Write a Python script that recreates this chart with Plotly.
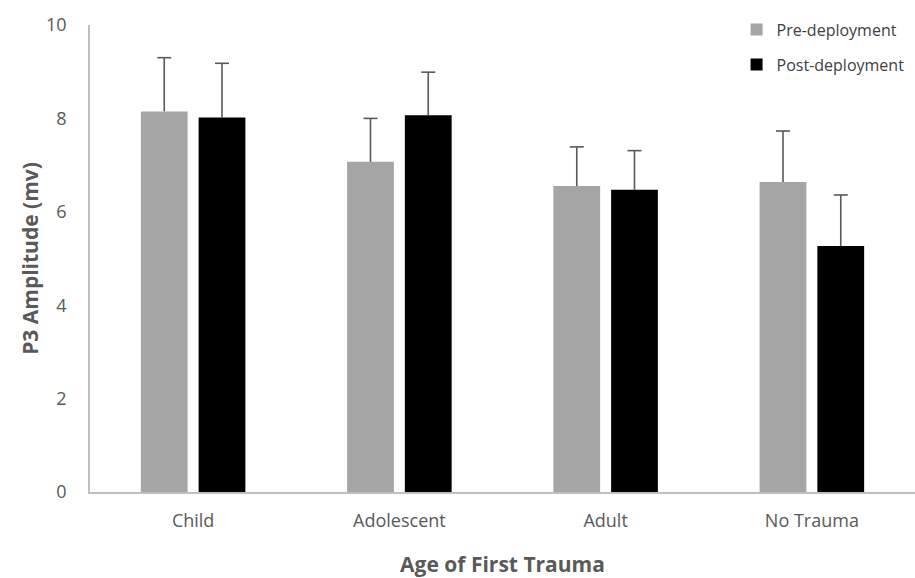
import plotly.graph_objects as go

categories = ["Child", "Adolescent", "Adult", "No Trauma"]
pre_values = [8.15, 7.07, 6.55, 6.64]
pre_errors = [1.15, 0.93, 0.84, 1.09]
post_values = [8.02, 8.07, 6.47, 5.27]
post_errors = [1.16, 0.92, 0.84, 1.09]

text_color = "#595959"
axis_color = "#bfbfbf"
err_color = "#595959"
font_family = "Open Sans, Liberation Sans, sans-serif"

bar_gap = 0.44
group_gap = 0.19
positions = list(range(len(categories)))
# centre offset of each bar inside its category slot
half_slot = (1 - bar_gap) / 4

fig = go.Figure()
series = [
    ("Pre-deployment", pre_values, pre_errors, "#a5a5a5", -half_slot),
    ("Post-deployment", post_values, post_errors, "#000000", half_slot),
]
for name, vals, errs, color, _ in series:
    fig.add_trace(go.Bar(
        name=name, x=positions, y=vals,
        marker=dict(color=color, line=dict(width=0)),
        error_y=dict(type="data", array=errs, arrayminus=[0] * len(vals),
                     symmetric=False, color=err_color, thickness=1.6, width=0),
        legendgroup=name,
    ))
# caps at the top end of each error bar
for name, vals, errs, color, offset in series:
    fig.add_trace(go.Scatter(
        x=[p + offset for p in positions],
        y=[v + e for v, e in zip(vals, errs)],
        mode="markers", showlegend=False, hoverinfo="skip",
        marker=dict(symbol="line-ew", size=10,
                    line=dict(color=err_color, width=1.6)),
    ))

fig.update_layout(
    width=915, height=578,
    margin=dict(l=90, r=0, t=25, b=86, autoexpand=False),
    paper_bgcolor="white", plot_bgcolor="white",
    barmode="group", bargap=bar_gap, bargroupgap=group_gap,
    font=dict(family=font_family, color=text_color, size=18),
    legend=dict(
        xref="container", yref="container",
        x=0.805, y=0.978, xanchor="left", yanchor="top",
        font=dict(size=16, color="#404040"),
        tracegroupgap=11, bgcolor="rgba(0,0,0,0)",
        itemwidth=30,
    ),
    xaxis=dict(
        range=[-0.5, len(categories) - 0.5],
        tickvals=positions, ticktext=categories,
        showline=True, linecolor=axis_color, linewidth=1.5,
        ticks="", showgrid=False, zeroline=False,
        tickfont=dict(size=18, color=text_color), ticklabelstandoff=12,
        title=dict(text="<b>Age of First Trauma</b>", standoff=28,
                   font=dict(size=21, color=text_color)),
    ),
    yaxis=dict(
        range=[0, 10], dtick=2, showline=True, linecolor=axis_color,
        linewidth=1.5, ticks="", showgrid=False, zeroline=False,
        tickfont=dict(size=18, color=text_color), ticklabelstandoff=18,
        title=dict(text="<b>P3 Amplitude (mv)</b>", standoff=2,
                   font=dict(size=21, color=text_color)),
    ),
)

fig.write_html("out.html")
